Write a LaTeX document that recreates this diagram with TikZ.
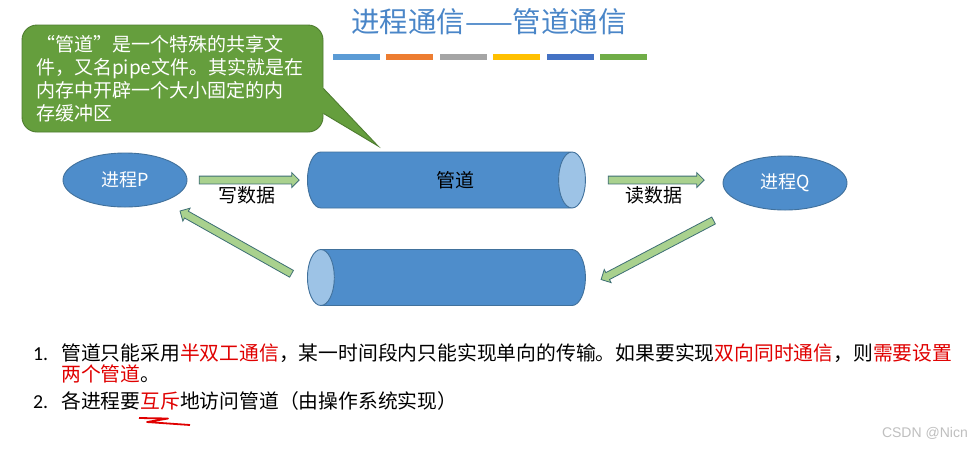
\documentclass[tikz,border=0pt]{standalone}
\usepackage{fontspec}
\setmainfont{Noto Sans CJK SC}
\newfontfamily\numfont{Carlito}
\newfontfamily\markfont{Liberation Sans}
\usepackage{xcolor}
\usepackage{tikz}
\usetikzlibrary{arrows.meta,positioning,calc,shapes.geometric,shapes.arrows}
\definecolor{pgblue}{HTML}{4E8DCB}
\definecolor{pgedge}{HTML}{41719C}
\definecolor{pglight}{HTML}{9DC3E6}
\definecolor{pggreen}{HTML}{659E3D}
\definecolor{pggreenedge}{HTML}{4E7C30}
\definecolor{pgarrow}{HTML}{A9D18E}
\definecolor{pgarrowedge}{HTML}{3D6E74}
\definecolor{pgtitle}{HTML}{4A86C8}
\definecolor{pgred}{HTML}{E00000}
\definecolor{barA}{HTML}{5B9BD5}
\definecolor{barB}{HTML}{ED7D31}
\definecolor{barC}{HTML}{A5A5A5}
\definecolor{barD}{HTML}{FFC000}
\definecolor{barE}{HTML}{4472C4}
\definecolor{barF}{HTML}{70AD47}
\newcommand{\hl}[1]{\textcolor{pgred}{#1}}
\tikzset{
  proc/.style={ellipse, draw=pgedge, line width=0.9pt, fill=pgblue, text=white,
    minimum width=124pt, minimum height=54pt, inner sep=0pt,
    font=\fontsize{18}{20}\selectfont},
  pipe/.style={cylinder, draw=pgedge, line width=0.9pt, cylinder uses custom fill,
    cylinder body fill=pgblue, cylinder end fill=pglight, aspect=0.48,
    text height=28pt, text depth=28pt, text width=0pt,
    minimum width=56pt, minimum height=278pt, inner sep=0pt},
  flowarrow/.style={single arrow, draw=pgarrowedge, line width=0.8pt, fill=pgarrow,
    single arrow head extend=3.5pt, inner xsep=0pt, inner ysep=3.5pt,
    sloped, allow upside down},
  note/.style={draw=pggreenedge, line width=0.9pt, fill=pggreen, rounded corners=15pt,
    text=white, align=left, text width=273pt, inner xsep=14pt,
    minimum height=107pt, font=\fontsize{19}{23}\selectfont},
  lbl/.style={inner sep=0pt, font=\fontsize{19}{21}\selectfont},
  body/.style={anchor=west, inner sep=0pt, text height=0.8em, text depth=0.2em,
    font=\fontsize{19.8}{22}\selectfont},
  wmark/.style={anchor=east, inner sep=0pt, text=black!25,
    font=\markfont\fontsize{14}{16}\selectfont}
}

\begin{document}
\begin{tikzpicture}[x=1pt, y=-1pt]
  \path[fill=white, use as bounding box] (0,0) rectangle (971,451);

  % title and colour bars
  \node[text=pgtitle, font=\fontsize{28.5}{31}\selectfont] (title) at (489,22) {进程通信——管道通信};
  \foreach \c [count=\i] in {barA,barB,barC,barD,barE,barF}
    \fill[\c] ({333+(\i-1)*53.4},54) rectangle ++(47,6);

  % callout
  \node[note] (note) at (172.5,78.5) {“管道”是一个特殊的共享文\\件，又名pipe文件。其实就是在\\内存中开辟一个大小固定的内\\存缓冲区};
  \coordinate (tip) at (378,146);
  \coordinate (b1) at ([yshift=-10pt]note.east);
  \coordinate (b2) at ([yshift=19pt]note.south east);
  \fill[pggreen] (tip) -- ($(tip)!1.08!(b1)$) -- ($(tip)!1.08!(b2)$) -- cycle;
  \draw[pggreenedge, line width=0.9pt] (b1) -- (tip) -- (b2);

  % processes and pipes
  \node[proc] (procp) at (125,180) {进程P};
  \node[proc] (procq) at (785,183) {进程Q};
  \node[pipe, anchor=west] (pipew) at (307,180) {};
  \node[pipe, shape border rotate=180, anchor=west] (piper) at (307,277.5) {};
  \node[lbl] (pipelbl) at (455,180) {管道};

  % data flow
  \path (procp.east) -- (pipew.west) node[flowarrow, midway, minimum height=100pt] (warr) {};
  \path (pipew.east) -- (pipew.east -| procq.west) node[flowarrow, midway, minimum height=96pt] (rarr) {};
  \path (procq.center) -- ([yshift=-10pt]piper.east) node[flowarrow, pos=.6325, minimum height=127pt] (qarr) {};
  \path ([yshift=-5pt]piper.west) -- (procp.center) node[flowarrow, pos=.382, minimum height=128pt] (parr) {};
  \node[lbl, below=2pt of warr] (wlbl) {写数据};
  \node[lbl, below=2pt of rarr] (rlbl) {读数据};

  % notes below
  \node[body] (num1) at (33,357) {\numfont 1.};
  \node[body] (line1) at (61,357) {管道只能采用\hl{半双工通信}，某一时间段内只能实现单向的传输。如果要实现\hl{双向同时通信}，则\hl{需要设置}};
  \node[body] (line2) at (61,378) {\hl{两个管道}。};
  \node[body] (num2) at (33,405) {\numfont 2.};
  \node[body] (line3) at (61,405) {各进程要\hl{互斥}地访问管道（由操作系统实现）};
  \draw[pgred, line width=1.8pt, line join=round] (139,418) -- (168,418.5) -- (147,422) -- (190,425);

  \node[wmark] (wm) at (968,433) {CSDN @Nicn};
\end{tikzpicture}
\end{document}
